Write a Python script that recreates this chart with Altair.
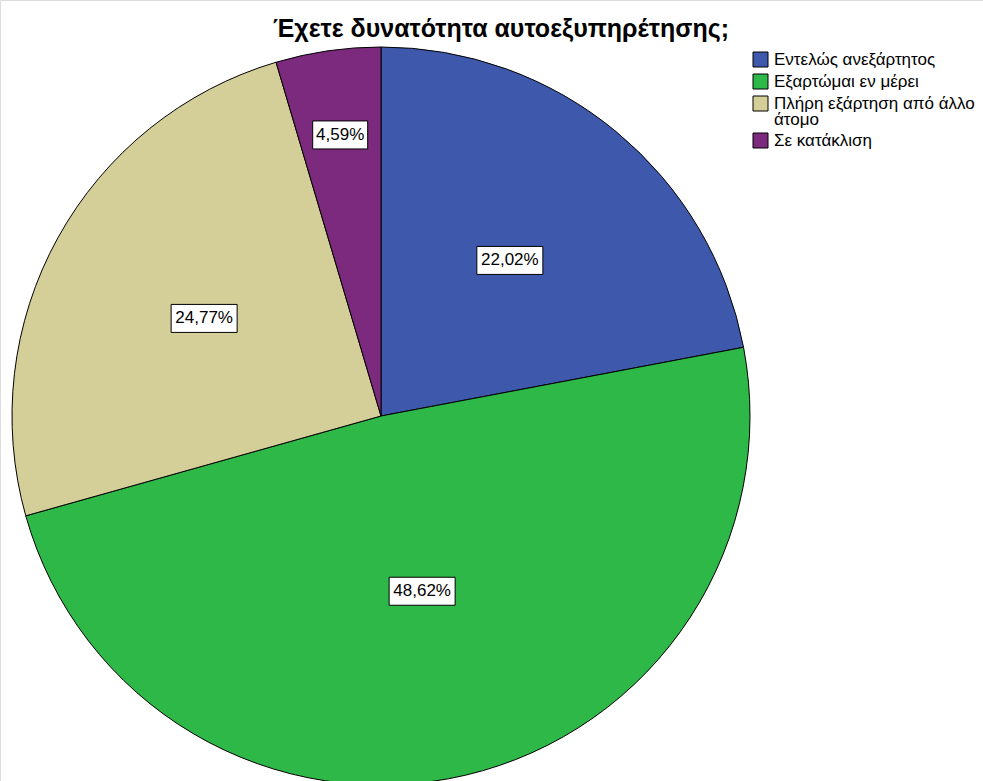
import altair as alt
import pandas as pd

title_text = "Έχετε δυνατότητα αυτοεξυπηρέτησης;"
categories = ["Εντελώς ανεξάρτητος", "Εξαρτώμαι εν μέρει", "Πλήρη εξάρτηση από άλλο άτομο", "Σε κατάκλιση"]
values = [22.02, 48.62, 24.77, 4.59]
colors = ["#3E58AC", "#2EB848", "#D4CE99", "#7C2A7D"]

labels = [f"{v:.2f}".replace(".", ",") + "%" for v in values]
df = pd.DataFrame({"category": categories, "value": values, "idx": list(range(len(values))), "label": labels})

CX, CY, R = 381, 416, 369
FONT = "Liberation Sans"

color = alt.Color(
    "category:N",
    scale=alt.Scale(domain=categories, range=colors),
    legend=alt.Legend(
        title=None,
        orient="none",
        legendX=752,
        legendY=51,
        symbolType="square",
        symbolSize=225,
        symbolStrokeColor="black",
        symbolStrokeWidth=1,
        symbolOpacity=1,
        labelFont=FONT,
        labelFontSize=17,
        labelColor="black",
        labelLimit=400,
        labelOffset=5,
        rowPadding=3,
        padding=0,
        labelExpr="datum.label == 'Πλήρη εξάρτηση από άλλο άτομο' ? ['Πλήρη εξάρτηση από άλλο', 'άτομο'] : datum.label",
    ),
    sort=categories,
)

base = alt.Chart(df)

arcs = base.mark_arc(outerRadius=R, stroke="black", strokeWidth=1).encode(
    theta=alt.Theta("value:Q", stack=True),
    color=color,
    order=alt.Order("idx:Q"),
    x=alt.value(CX),
    y=alt.value(CY),
)

pos = base.transform_window(
    cum="sum(value)", sort=[alt.SortField("idx")], frame=[None, 0]
).transform_joinaggregate(
    total="sum(value)"
).transform_calculate(
    mid="(datum.cum - datum.value/2) / datum.total * 2 * PI",
    rl="datum.value < 10 ? 284 : (datum.value > 40 ? 180 : 202)",
).transform_calculate(
    lx=f"{CX} + datum.rl * sin(datum.mid)",
    ly=f"{CY} - datum.rl * cos(datum.mid)",
    w="length(datum.label) * 11",
).transform_calculate(
    x0="datum.lx - datum.w/2",
    x1="datum.lx + datum.w/2",
    y0="datum.ly - 14",
    y1="datum.ly + 14",
)

boxes = pos.mark_rect(fill="white", stroke="black", strokeWidth=1).encode(
    x=alt.X("x0:Q", scale=None),
    x2="x1:Q",
    y=alt.Y("y0:Q", scale=None),
    y2="y1:Q",
)

texts = pos.mark_text(font=FONT, fontSize=17, color="black", align="center", baseline="middle").encode(
    x=alt.X("lx:Q", scale=None),
    y=alt.Y("ly:Q", scale=None),
    text="label:N",
)

title = alt.Chart(pd.DataFrame({"t": [title_text]})).mark_text(
    font=FONT, fontSize=25, fontWeight="bold", color="black", align="center", baseline="alphabetic"
).encode(text="t:N", x=alt.value(501), y=alt.value(37))

chart = alt.layer(arcs, boxes, texts, title).properties(
    width=983,
    height=781,
    autosize=alt.AutoSizeParams(type="none"),
    padding=0,
).configure_view(stroke=None).configure(
    background="white",
    style={"guide-label": {"lineHeight": 16.5}},
)

chart.save("out.html", embed_options={"renderer": "svg", "actions": False})
